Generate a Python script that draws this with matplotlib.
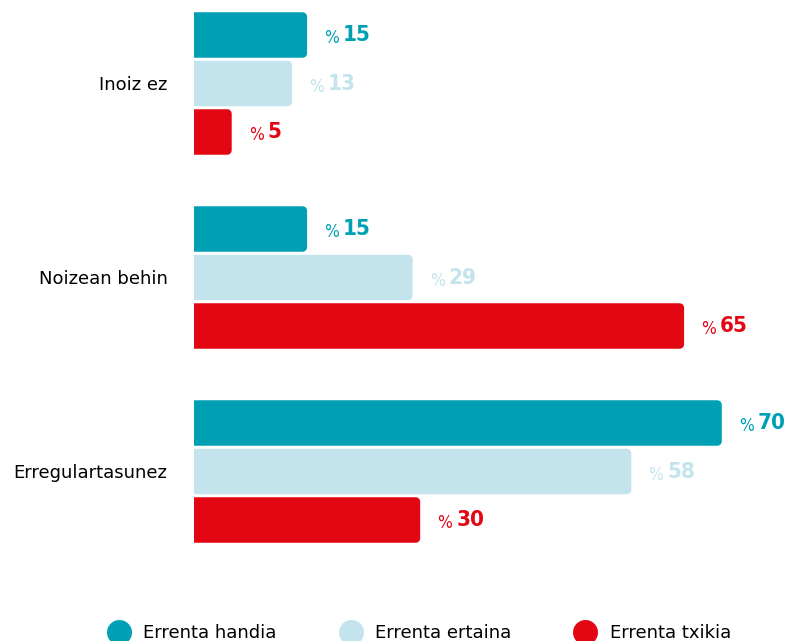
import numpy as np
import matplotlib as mpl
import matplotlib.pyplot as plt
from matplotlib.patches import FancyBboxPatch
from matplotlib.lines import Line2D

mpl.use("Agg")

categories = ["Inoiz ez", "Noizean behin", "Erregulartasunez"]
series = ["Errenta handia", "Errenta ertaina", "Errenta txikia"]
values = {
    "Errenta handia": [15, 15, 70],
    "Errenta ertaina": [13, 29, 58],
    "Errenta txikia": [5, 65, 30],
}
colors = ["#00A0B4", "#C3E4EC", "#E30613"]

W, H = 787, 641
fig = plt.figure(figsize=(W / 100, H / 100), dpi=100)
left_px = 194
ax = fig.add_axes([left_px / W, 0, 1 - left_px / W, 1])

px_per_x = 7.54
px_per_y = 194.0
xmax = (W - left_px) / px_per_x
ax.set_xlim(0, xmax)
# group centres at pixel rows 83.5, 277.5, 471.5 (from top)
ax.set_ylim((H - 83.5) / px_per_y, -83.5 / px_per_y)

step = 48.5 / px_per_y
bar_h = 45.5 / px_per_y
rx = 5 / px_per_x
ry = 5 / px_per_y

for j, (name, col) in enumerate(zip(series, colors)):
    for i, v in enumerate(values[name]):
        yc = i + (j - 1) * step
        patch = FancyBboxPatch((-rx, yc - bar_h / 2), v + rx, bar_h,
                               boxstyle=f"round,pad=0,rounding_size={rx}",
                               mutation_aspect=ry / rx,
                               facecolor=col, edgecolor="none")
        ax.add_patch(patch)
        ax.annotate("%", (v, yc), xytext=(17, -3), textcoords="offset pixels",
                    ha="left", va="center", color=col, fontsize=12.5,
                    family="DejaVu Sans", fontstretch="condensed")
        ax.annotate(str(v), (v, yc), xytext=(36, 0), textcoords="offset pixels",
                    ha="left", va="center", color=col, fontsize=16,
                    fontweight="bold", family="DejaVu Sans",
                    fontstretch="condensed")

ax.set_yticks(range(len(categories)))
ax.set_yticklabels(categories, fontsize=13)
ax.tick_params(axis="y", length=0, pad=19)
ax.set_xticks([])
for s in ax.spines.values():
    s.set_visible(False)

handles = [Line2D([], [], marker="o", linestyle="none", markersize=18,
                  markerfacecolor=c, markeredgecolor="none") for c in colors]
fig.legend(handles, series, loc="center", bbox_to_anchor=(0.534, 8 / H),
           ncol=3, frameon=False, fontsize=13, handletextpad=0.85,
           columnspacing=3.6, handlelength=1.0)

fig.savefig("out.png", dpi=100)
